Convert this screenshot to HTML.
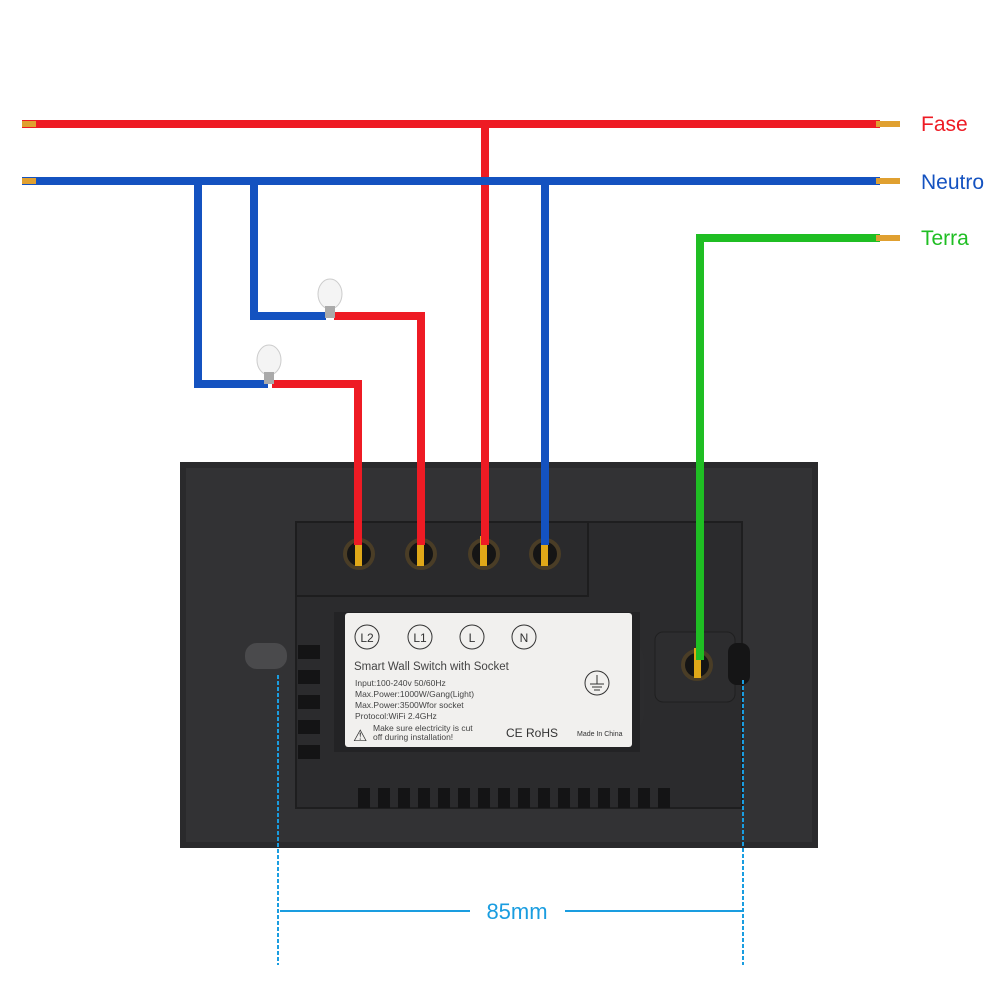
<!DOCTYPE html>
<html><head><style>body{margin:0;background:#fff}svg{display:block}</style></head><body>
<svg width="1000" height="1000" viewBox="0 0 1000 1000" xmlns="http://www.w3.org/2000/svg" font-family="Liberation Sans, sans-serif">
<!-- device -->
<rect x="180" y="462" width="638" height="386" fill="#2a2a2c"/>
<rect x="186" y="468" width="626" height="374" fill="#323234"/>
<rect x="296" y="522" width="446" height="286" fill="#2b2b2d" stroke="#1e1e1f" stroke-width="2"/>
<rect x="296" y="522" width="292" height="74" fill="#2a2a2c" stroke="#1d1d1e" stroke-width="2"/>
<rect x="572" y="632" width="72" height="110" rx="30" fill="#2c2c2e"/>
<rect x="334" y="612" width="306" height="140" fill="#232325"/>
<rect x="345" y="613" width="287" height="134" fill="#f1f0ee" rx="3"/>
<!-- vents -->
<g fill="#141415">
<rect x="358" y="788" width="12" height="20"/><rect x="378" y="788" width="12" height="20"/><rect x="398" y="788" width="12" height="20"/><rect x="418" y="788" width="12" height="20"/><rect x="438" y="788" width="12" height="20"/><rect x="458" y="788" width="12" height="20"/><rect x="478" y="788" width="12" height="20"/><rect x="498" y="788" width="12" height="20"/><rect x="518" y="788" width="12" height="20"/><rect x="538" y="788" width="12" height="20"/><rect x="558" y="788" width="12" height="20"/><rect x="578" y="788" width="12" height="20"/><rect x="598" y="788" width="12" height="20"/><rect x="618" y="788" width="12" height="20"/><rect x="638" y="788" width="12" height="20"/><rect x="658" y="788" width="12" height="20"/>
<rect x="298" y="645" width="22" height="14"/><rect x="298" y="670" width="22" height="14"/><rect x="298" y="695" width="22" height="14"/><rect x="298" y="720" width="22" height="14"/><rect x="298" y="745" width="22" height="14"/>
</g>
<rect x="655" y="632" width="80" height="70" rx="8" fill="#2d2d2f" stroke="#1f1f20"/>
<rect x="245" y="643" width="42" height="26" rx="12" fill="#4a4a4c"/>
<rect x="728" y="643" width="22" height="42" rx="9" fill="#151516"/>
<!-- terminals -->
<g fill="#151515" stroke="#4a3d26" stroke-width="4">
<circle cx="359" cy="554" r="14"/><circle cx="421" cy="554" r="14"/><circle cx="484" cy="554" r="14"/><circle cx="545" cy="554" r="14"/><circle cx="697" cy="665" r="14"/>
</g>
<g fill="#e0a818">
<rect x="355" y="536" width="7" height="30"/><rect x="417" y="536" width="7" height="30"/><rect x="480" y="536" width="7" height="30"/><rect x="541" y="536" width="7" height="30"/><rect x="694" y="648" width="7" height="30"/>
</g>
<!-- label text -->
<g fill="none" stroke="#333" stroke-width="1">
<circle cx="367" cy="637" r="12"/><circle cx="420" cy="637" r="12"/><circle cx="472" cy="637" r="12"/><circle cx="524" cy="637" r="12"/><circle cx="597" cy="683" r="12"/>
</g>
<g fill="#333" font-size="12" text-anchor="middle"><text x="367" y="642">L2</text><text x="420" y="642">L1</text><text x="472" y="642">L</text><text x="524" y="642">N</text></g>
<g stroke="#333"><line x1="597" y1="675" x2="597" y2="684"/><line x1="590" y1="684" x2="604" y2="684"/><line x1="592" y1="687" x2="602" y2="687"/><line x1="594" y1="690" x2="600" y2="690"/></g>
<text x="354" y="670" font-size="11.5" fill="#444">Smart Wall Switch with Socket</text>
<g font-size="8.5" fill="#444"><text x="355" y="686">Input:100-240v 50/60Hz</text><text x="355" y="697">Max.Power:1000W/Gang(Light)</text><text x="355" y="708">Max.Power:3500Wfor socket</text><text x="355" y="719">Protocol:WiFi 2.4GHz</text>
<text x="373" y="731">Make sure electricity is cut</text><text x="373" y="740">off during installation!</text></g>
<text x="353" y="741" font-size="16" fill="#333">⚠</text>
<text x="506" y="737" font-size="12" fill="#333">CE RoHS</text>
<text x="577" y="736" font-size="7" fill="#333">Made In China</text>
<!-- wires -->
<g fill="none" stroke-width="8" stroke-linejoin="miter">
<polyline points="22,124 880,124" stroke="#ee1b24"/>
<polyline points="485,124 485,545" stroke="#ee1b24"/>
<polyline points="22,181 880,181" stroke="#1452c0"/>
<polyline points="545,181 545,545" stroke="#1452c0"/>
<polyline points="198,181 198,384 268,384" stroke="#1452c0"/>
<polyline points="254,181 254,316 326,316" stroke="#1452c0"/>
<polyline points="334,316 421,316 421,545" stroke="#ee1b24"/>
<polyline points="272,384 358,384 358,545" stroke="#ee1b24"/>
<polyline points="880,238 700,238 700,660" stroke="#1fbe23"/>
</g>
<g fill="#e0a030"><rect x="22" y="121" width="14" height="6"/><rect x="22" y="178" width="14" height="6"/><rect x="876" y="121" width="24" height="6"/><rect x="876" y="178" width="24" height="6"/><rect x="876" y="235" width="24" height="6"/></g>
<!-- bulbs -->
<g><ellipse cx="330" cy="294" rx="12" ry="15" fill="#f4f4f4" stroke="#ccc"/><rect x="325" y="306" width="10" height="12" fill="#aaa"/>
<ellipse cx="269" cy="360" rx="12" ry="15" fill="#f4f4f4" stroke="#ccc"/><rect x="264" y="372" width="10" height="12" fill="#aaa"/></g>
<!-- labels -->
<g font-size="21"><text x="921" y="131" fill="#ee1b24">Fase</text><text x="921" y="189" fill="#1452c0">Neutro</text><text x="921" y="245" fill="#1fbe23">Terra</text></g>
<!-- dimension -->
<g stroke="#1a9de0" stroke-width="2"><line x1="278" y1="675" x2="278" y2="965" stroke-dasharray="4,2"/><line x1="743" y1="680" x2="743" y2="965" stroke-dasharray="4,2"/>
<line x1="280" y1="911" x2="470" y2="911"/><line x1="565" y1="911" x2="743" y2="911"/></g>
<text x="517" y="919" font-size="22" fill="#1a9de0" text-anchor="middle">85mm</text>
</svg>
</body></html>
